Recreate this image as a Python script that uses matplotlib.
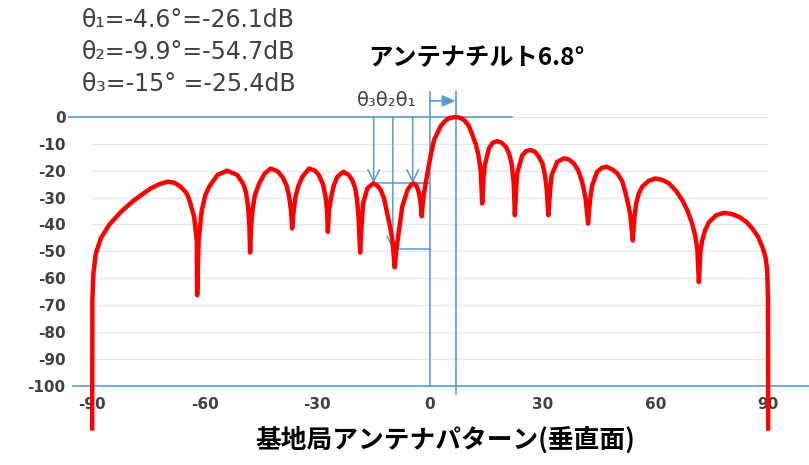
import matplotlib
matplotlib.use("Agg")
import matplotlib.pyplot as plt

plt.rcParams["axes.unicode_minus"] = False

# vertical antenna pattern (degrees, dB)
angle_deg = [
    -89.95, -89.9, -89.6, -89.0, -87.7, -85.5, -82.3, -78.8, -74.4, -72.0, -69.9, -68.0,
    -66.4, -65.0, -64.2, -62.8, -62.1, -62.0, -61.6, -60.8, -59.8, -58.8, -56.6, -54.0,
    -51.3, -49.7, -49.0, -48.4, -48.1, -47.9, -47.6, -47.2, -46.6, -45.5, -44.0, -42.4,
    -40.6, -39.3, -38.2, -37.5, -37.0, -36.7, -36.3, -35.8, -35.0, -34.0, -32.2, -30.6,
    -29.6, -28.5, -27.8, -27.4, -27.2, -26.9, -26.3, -25.6, -24.7, -23.1, -21.7, -20.7,
    -19.9, -19.4, -19.0, -18.6, -18.2, -17.8, -16.7, -15.1, -14.0, -13.1, -12.2, -11.4,
    -10.6, -10.0, -9.4, -8.9, -8.5, -7.4, -6.0, -5.0, -4.3, -3.5, -2.9, -2.5,
    -2.2, -1.9, -1.6, -0.7, 0.2, 1.1, 2.8, 4.0, 5.1, 6.8, 8.0, 9.1,
    10.3, 11.3, 12.2, 12.9, 13.5, 13.9, 14.3, 14.6, 15.7, 16.7, 17.9, 19.1,
    20.2, 21.1, 21.8, 22.3, 22.6, 23.0, 23.3, 24.6, 25.6, 26.8, 28.0, 29.0,
    30.0, 30.6, 31.1, 31.5, 32.0, 32.4, 33.9, 35.7, 37.0, 38.3, 39.5, 40.5,
    41.4, 42.1, 42.6, 43.2, 44.5, 45.8, 47.0, 48.5, 49.9, 51.2, 52.1, 53.0,
    53.4, 54.0, 54.4, 54.9, 55.6, 56.5, 58.2, 60.1, 62.0, 63.6, 65.5, 67.2,
    68.6, 69.8, 70.6, 71.2, 71.6, 72.0, 72.5, 73.3, 74.3, 76.2, 78.3, 80.3,
    82.3, 84.2, 85.8, 87.3, 88.5, 89.3, 89.8, 90.0, 90.05,
]
gain_db = [
    -116, -68, -58, -51, -45.3, -40.3, -35.3, -31.0, -26.6, -25.0, -24.1, -24.5,
    -26.0, -28.0, -30.3, -37.2, -45.9, -66.4, -45.9, -35.0, -29.0, -26.0, -21.6, -20.0,
    -21.6, -25.0, -28.0, -34.0, -40.0, -50.5, -40.0, -34.0, -29.0, -24.8, -21.0, -19.2,
    -20.2, -22.3, -25.5, -29.7, -35.0, -41.5, -35.0, -29.7, -25.5, -22.3, -19.2, -20.0,
    -21.6, -25.0, -29.7, -35.0, -42.8, -35.0, -29.7, -25.5, -22.3, -20.4, -21.5, -23.5,
    -26.5, -31.0, -38.0, -50.5, -40.0, -32.2, -26.6, -24.7, -25.6, -27.2, -30.5, -35.9,
    -41.0, -45.9, -56.0, -49.0, -44.7, -33.5, -27.2, -25.2, -24.7, -25.8, -28.5, -32.0,
    -37.0, -32.0, -28.5, -21.0, -14.2, -8.5, -3.5, -1.5, -0.4, 0.0, -0.3, -1.1,
    -3.2, -6.7, -10.2, -14.2, -20.0, -32.2, -22.0, -17.9, -11.7, -9.6, -9.0, -9.6,
    -11.1, -13.8, -17.9, -25.0, -36.6, -25.0, -20.4, -14.2, -12.7, -12.3, -13.0, -14.8,
    -17.5, -21.6, -27.0, -36.6, -27.0, -21.6, -16.7, -15.4, -15.8, -17.3, -20.0, -24.1,
    -30.0, -39.7, -31.0, -25.4, -20.4, -18.9, -18.5, -19.5, -21.0, -24.0, -28.5, -34.0,
    -37.2, -46.0, -38.0, -32.2, -28.5, -26.0, -23.8, -22.9, -23.5, -24.7, -27.5, -31.0,
    -35.0, -39.7, -44.0, -49.6, -61.5, -50.0, -45.9, -42.0, -39.1, -36.6, -35.7, -36.1,
    -37.2, -39.0, -41.5, -44.5, -48.4, -52.0, -57.1, -68.0, -116,
]

x_ticks = [-90, -60, -30, 0, 30, 60, 90]
y_ticks = [0, -10, -20, -30, -40, -50, -60, -70, -80, -90, -100]

tilt = 6.8
theta_angles = [-15, -9.9, -4.6]       # θ3, θ2, θ1
theta_marks = [-24.6, -49.3, -24.6]    # where the arrows stop
theta_lines = ["θ₁=-4.6°=-26.1dB", "θ₂=-9.9°=-54.7dB", "θ₃=-15° =-25.4dB"]

blue = "#5b9bd5"
jp = ["Noto Sans CJK JP", "DejaVu Sans"]

fig = plt.figure(figsize=(8.09, 4.65), dpi=100)
ax = fig.add_axes([92 / 809, 79.5 / 465, 676 / 809, 268.5 / 465])

ax.set_xlim(-90, 90)
ax.set_ylim(-100, 0)
ax.set_yticks(y_ticks)
ax.set_xticks(x_ticks)
ax.grid(axis="y", color="#e6e6e6", lw=0.9)
ax.set_axisbelow(True)
for s in ax.spines.values():
    s.set_visible(False)
ax.tick_params(length=0, colors="#404040")
ax.tick_params(axis="y", pad=19)
ax.tick_params(axis="x", pad=8)
for lab in ax.get_xticklabels() + ax.get_yticklabels():
    lab.set_fontweight("bold")
    lab.set_fontsize(11)
    lab.set_family("DejaVu Sans")

# annotation lines
ax.plot([-96, 21.8], [0, 0], color=blue, lw=1.2, clip_on=False, zorder=1)
ax.plot([-95, 101], [-100, -100], color=blue, lw=1.2, clip_on=False, zorder=1)
ax.plot([0, 0], [9.3, -100], color=blue, lw=1.2, clip_on=False, zorder=1)
ax.plot([tilt, tilt], [9.3, -103], color=blue, lw=1.2, clip_on=False, zorder=1)
ax.annotate("", xy=(tilt, 6), xytext=(0, 6), annotation_clip=False,
            arrowprops=dict(arrowstyle="-|>,head_length=0.8,head_width=0.35",
                            color=blue, lw=1.2, shrinkA=0, shrinkB=0))
for a, m in zip(theta_angles, theta_marks):
    ax.annotate("", xy=(a, m), xytext=(a, 0), annotation_clip=False,
                arrowprops=dict(arrowstyle="->,head_length=0.6,head_width=0.3",
                                color=blue, lw=1.1, shrinkA=0, shrinkB=0,
                                mutation_scale=14))
    ax.plot([a, 0], [m, m], color=blue, lw=1.1, zorder=1)

ax.plot(angle_deg, gain_db, color="red", lw=3.2, clip_on=False,
        solid_joinstyle="round", zorder=3)

# texts
for i, t in enumerate(theta_lines):
    fig.text(82 / 809, 1 - (20 + 32 * i) / 465, t, family="DejaVu Sans",
             fontsize=17, color="#404040", va="center", ha="left")
fig.text(357 / 809, 1 - 101 / 465, "θ₃θ₂θ₁", family="DejaVu Sans", fontsize=14,
         color="#404040", va="center", ha="left")
fig.text(368 / 809, 1 - 58 / 465, "アンテナチルト6.8°", family=jp, fontsize=17.5,
         fontweight="bold", color="black", va="center", ha="left")
fig.text(445 / 809, 1 - 440 / 465, "基地局アンテナパターン(垂直面)", family=jp,
         fontsize=18.5, fontweight="bold", color="black", va="center", ha="center")

fig.savefig("out.png", dpi=100)
